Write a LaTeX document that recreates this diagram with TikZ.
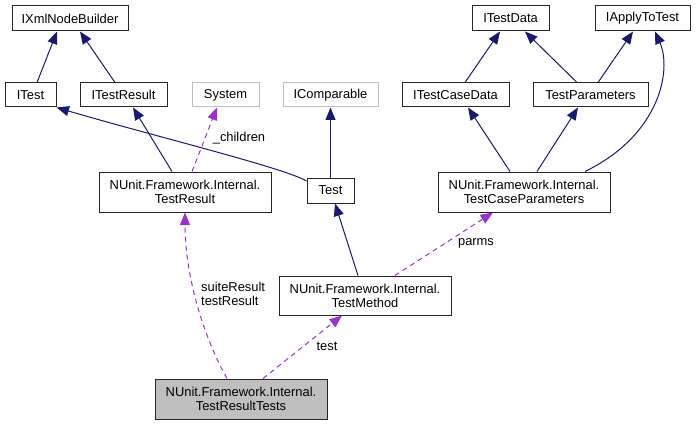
\documentclass[tikz,border=0pt]{standalone}
\usepackage{fontspec}
\setmainfont{Liberation Sans}
\usetikzlibrary{arrows.meta}
\definecolor{inhcol}{HTML}{191970}
\definecolor{usecol}{HTML}{9A32CD}
\definecolor{greyb}{HTML}{BFBFBF}
\tikzset{
  box/.style={draw=black!85, line width=1pt, fill=white, inner sep=0pt, align=center,
    font=\fontsize{12.9}{14}\selectfont, text=black},
  greybox/.style={box, draw=greyb},
  curbox/.style={box, fill=greyb},
  inh/.style={draw=inhcol, line width=1pt, -{Triangle[length=12.5pt,width=10pt]}, color=inhcol},
  use/.style={draw=usecol, line width=1pt, dash pattern=on 5pt off 4pt,
    -{Triangle[length=12.5pt,width=10pt]}, color=usecol},
  lbl/.style={font=\fontsize{12.9}{14}\selectfont, text=black, inner sep=0pt, align=left}
}
\begin{document}
\begin{tikzpicture}[x=1pt,y=-1pt]
\useasboundingbox (0,0) rectangle (698,425);
% nodes
\node[box, minimum width=116pt, minimum height=25pt] (ixml) at (70,18.5) {IXmlNodeBuilder};
\node[box, minimum width=51pt, minimum height=24pt] (itest) at (30.5,95) {ITest};
\node[box, minimum width=87pt, minimum height=24pt] (itestresult) at (123.5,95) {ITestResult};
\node[greybox, minimum width=67pt, minimum height=24pt] (system) at (225.5,95) {System};
\node[greybox, minimum width=95pt, minimum height=24pt] (icomparable) at (330.5,95) {IComparable};
\node[box, minimum width=107pt, minimum height=24pt] (itestcasedata) at (455.5,95) {ITestCaseData};
\node[box, minimum width=115pt, minimum height=24pt] (testparameters) at (590.5,95) {TestParameters};
\node[box, minimum width=77pt, minimum height=25pt] (itestdata) at (510.5,18.5) {ITestData};
\node[box, minimum width=95pt, minimum height=25pt] (iapply) at (642.5,18.5) {IApplyToTest};
\node[box, minimum width=172pt, minimum height=40pt] (testresult) at (185,192) {NUnit.Framework.Internal.\\TestResult};
\node[box, minimum width=47pt, minimum height=25pt] (test) at (330.5,190.5) {Test};
\node[box, minimum width=172pt, minimum height=40pt] (tcp) at (524,192) {NUnit.Framework.Internal.\\TestCaseParameters};
\node[box, minimum width=172pt, minimum height=39pt] (testmethod) at (365,295.5) {NUnit.Framework.Internal.\\TestMethod};
\node[curbox, minimum width=172pt, minimum height=40pt] (trt) at (241,399) {NUnit.Framework.Internal.\\TestResultTests};
% inheritance edges
\draw[inh] (itest.north -| 37,0) -- (ixml.south -| 57,0);
\draw[inh] (itestresult.north -| 115,0) -- (ixml.south -| 80,0);
\draw[inh] (testresult.north -| 172,0) -- (itestresult.south -| 133,0);
\draw[inh] (test.west |- 0,181) .. controls (285,168) and (150,135) .. (itest.south east);
\draw[inh] (test.north) -- (icomparable.south);
\draw[inh] (tcp.north -| 510,0) -- (itestcasedata.south -| 468,0);
\draw[inh] (tcp.north -| 537,0) -- (testparameters.south -| 578,0);
\draw[inh] (tcp.north -| 585,0) .. controls (660,135) and (672,70) .. (iapply.south -| 655,0);
\draw[inh] (testparameters.north -| 577,0) -- (itestdata.south -| 525,0);
\draw[inh] (testparameters.north -| 598,0) -- (iapply.south -| 633,0);
\draw[inh] (itestcasedata.north -| 465,0) -- (itestdata.south -| 500,0);
\draw[inh] (testmethod.north -| 358,0) -- (test.south -| 335,0);
% usage edges
\draw[use] (testresult.north -| 192,0) -- (system.south -| 217,0);
\node[lbl] (lchildren) at (239,138) {\_children};
\draw[use] (testmethod.north -| 395,0) -- (tcp.south -| 493,0);
\node[lbl] (lparms) at (476,243) {parms};
\draw[use] (trt.north -| 227,0) .. controls (200,330) and (185,270) .. (testresult.south -| 185,0);
\node[lbl, anchor=west] (lsuite) at (201,294) {suiteResult\\testResult};
\draw[use] (trt.north -| 263,0) -- (testmethod.south -| 342,0);
\node[lbl] (ltest) at (327,346) {test};
\end{tikzpicture}
\end{document}
